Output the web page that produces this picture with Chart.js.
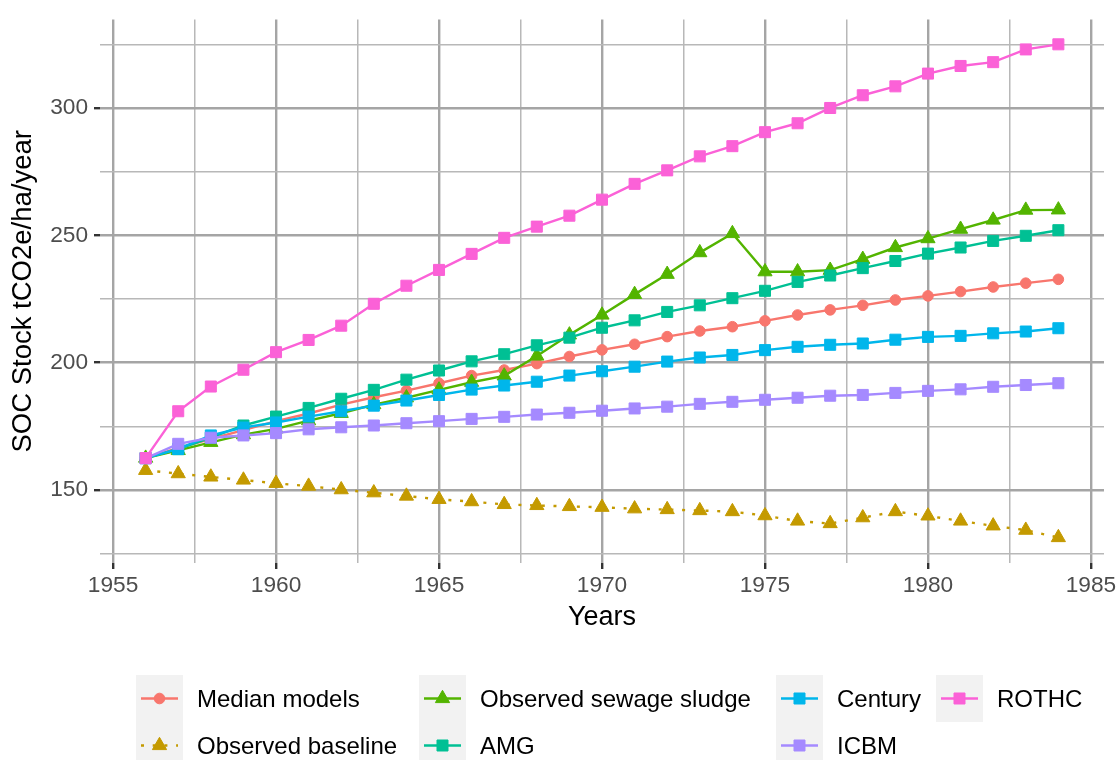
<!DOCTYPE html>
<html>
<head>
<meta charset="utf-8">
<script src="https://cdn.jsdelivr.net/npm/chart.js@4.4.1/dist/chart.umd.min.js"></script>
<style>
  html, body { margin: 0; padding: 0; background: #fff; }
  #wrap { position: relative; width: 1120px; height: 760px; overflow: hidden; font-family: "Liberation Sans", Arial, sans-serif; }
  #chart { position: absolute; left: 0; top: 0; }
  .key { position: absolute; width: 47px; height: 47px; }
  .lbl { position: absolute; font-size: 24px; line-height: 47px; color: #000; white-space: nowrap; }
</style>
</head>
<body>
<div id="wrap">
  <canvas id="chart" width="1120" height="760"></canvas>
  <div id="legend"></div>
</div>
<script>
// SOC stock per model, 1956-1984
const years = [1956, 1957, 1958, 1959, 1960, 1961, 1962, 1963, 1964, 1965, 1966, 1967, 1968, 1969, 1970,
  1971, 1972, 1973, 1974, 1975, 1976, 1977, 1978, 1979, 1980, 1981, 1982, 1983, 1984];

const medianModels = [162.5, 166.5, 170, 173.5, 177, 180, 183.5, 186.4, 189, 191.9, 194.9, 197.1, 199.6, 202.4, 205,
  207.2, 210.2, 212.4, 214.1, 216.4, 218.7, 220.7, 222.5, 224.6, 226.2, 227.9, 229.7, 231.2, 232.7];
const observedBaseline = [157.7, 156.4, 155.1, 153.9, 152.6, 151.5, 150.1, 148.9, 147.6, 146.3, 145.4, 144.3, 143.9, 143.5, 143.2,
  142.6, 142.3, 141.9, 141.5, 139.9, 137.8, 136.8, 139.1, 141.5, 139.8, 137.8, 135.9, 134.2, 131.3];
const observedSludge = [162.5, 165.5, 168.7, 171.7, 174, 177.2, 180.1, 183.5, 186.2, 189.3, 192.3, 194.8, 202.6, 210.9, 218.7,
  226.8, 234.7, 243.2, 250.7, 235.7, 235.7, 236.3, 240.6, 245.2, 248.7, 252.4, 256, 259.9, 260];
const amg = [162.5, 166, 170.5, 175.3, 178.8, 182.2, 185.8, 189.3, 193.3, 196.9, 200.5, 203.3, 206.8, 209.8, 213.7,
  216.6, 219.9, 222.5, 225.3, 228.2, 231.7, 234.2, 237.1, 239.9, 242.8, 245.2, 247.8, 249.8, 252];
const century = [162.5, 166.1, 171.4, 174.5, 176.5, 178.8, 180.9, 183.1, 185.1, 187.3, 189.4, 191, 192.5, 194.9, 196.6,
  198.4, 200.4, 202, 203, 204.9, 206.2, 207, 207.5, 209, 210.1, 210.5, 211.5, 212.2, 213.5];
const icbm = [162.4, 168.1, 170.5, 171.4, 172.3, 173.8, 174.6, 175.3, 176.2, 177, 177.9, 178.7, 179.6, 180.3, 181.1,
  182, 182.7, 183.8, 184.6, 185.4, 186.2, 187, 187.3, 188.1, 188.9, 189.5, 190.5, 191.2, 191.9];
const rothc = [162.5, 180.9, 190.6, 197.2, 204.1, 208.9, 214.5, 223.1, 230.2, 236.4, 242.7, 249, 253.4, 257.7, 264,
  270.2, 275.5, 281, 285, 290.5, 294, 300, 305, 308.5, 313.5, 316.5, 318, 323, 325];

const names = ['Median models', 'Observed baseline', 'Observed sewage sludge', 'AMG', 'Century', 'ICBM', 'ROTHC'];
const values = [medianModels, observedBaseline, observedSludge, amg, century, icbm, rothc];
const colors = ['#F8766D', '#C49A00', '#53B400', '#00C094', '#00B6EB', '#A58AFF', '#FB61D7'];
const shapes = ['circle', 'triangle', 'triangle', 'rect', 'rect', 'rect', 'rect'];

const xTicks = [1955, 1957.5, 1960, 1962.5, 1965, 1967.5, 1970, 1972.5, 1975, 1977.5, 1980, 1982.5, 1985];
const yTicks = [125, 150, 175, 200, 225, 250, 275, 300, 325];

const FONT = '"Liberation Sans", Arial, sans-serif';
const radius = { circle: 5.3, triangle: 8.2, rect: 7.8 };
const dotted = [3, 8.7];
const LINE_W = 2.4;

const isMajorX = v => v % 5 === 0;
const isMajorY = v => v % 50 === 0;

function gridFor(isMajor) {
  return {
    color: c => isMajor(c.tick.value) ? '#a5a5a5' : '#b8b8b8',
    lineWidth: c => isMajor(c.tick.value) ? 2.4 : 1.5,
    tickColor: c => isMajor(c.tick.value) ? '#333333' : 'rgba(255,255,255,0)',
    tickWidth: c => isMajor(c.tick.value) ? 2.4 : 0,
    tickLength: 6,
    drawTicks: true,
  };
}

new Chart(document.getElementById('chart'), {
  type: 'line',
  data: {
    datasets: names.map((name, i) => ({
      label: name,
      data: years.map((y, j) => ({ x: y, y: values[i][j] })),
      borderColor: colors[i],
      backgroundColor: colors[i],
      borderWidth: LINE_W,
      borderDash: i === 1 ? dotted : [],
      pointStyle: shapes[i],
      pointRadius: radius[shapes[i]],
      pointBorderWidth: 1,
      pointBorderColor: colors[i],
      pointBackgroundColor: colors[i],
      tension: 0,
      fill: false,
      order: names.length - 1 - i,
    })),
  },
  options: {
    responsive: false,
    devicePixelRatio: 1,
    animation: false,
    layout: { padding: { top: 18, right: 16, left: 0, bottom: 110 } },
    plugins: {
      legend: { display: false },
      tooltip: { enabled: false },
    },
    scales: {
      x: {
        type: 'linear',
        min: 1954.6,
        max: 1985.4,
        afterBuildTicks: s => { s.ticks = xTicks.map(v => ({ value: v })); },
        afterFit: s => { s.height = 87; },
        ticks: {
          autoSkip: false,
          maxRotation: 0,
          padding: 3,
          color: '#4d4d4d',
          font: { family: FONT, size: 22.7 },
          callback: v => isMajorX(v) ? String(v) : '',
        },
        grid: gridFor(isMajorX),
        border: { display: false },
        title: {
          display: true,
          text: 'Years',
          color: '#000',
          font: { family: FONT, size: 27 },
          padding: { top: 0, bottom: 16 },
        },
      },
      y: {
        type: 'linear',
        min: 121.3,
        max: 334.7,
        afterBuildTicks: s => { s.ticks = yTicks.map(v => ({ value: v })); },
        afterFit: s => { s.width = 100; },
        ticks: {
          autoSkip: false,
          padding: 6,
          color: '#4d4d4d',
          font: { family: FONT, size: 22.7 },
          callback: v => isMajorY(v) ? String(v) : '',
        },
        grid: gridFor(isMajorY),
        border: { display: false },
        title: {
          display: true,
          text: 'SOC Stock tCO2e/ha/year',
          color: '#000',
          font: { family: FONT, size: 27.5 },
          padding: { top: 7, bottom: 0 },
        },
      },
    },
  },
});

// ggplot-style legend: grey key boxes, filled column by column
const legendCols = [136, 419, 776, 936];
const legendRows = [675, 722];
const legendEl = document.getElementById('legend');

function drawKey(cv, i) {
  const ctx = cv.getContext('2d');
  ctx.fillStyle = '#f2f2f2';
  ctx.fillRect(0, 0, 47, 47);
  ctx.strokeStyle = colors[i];
  ctx.lineWidth = LINE_W;
  ctx.setLineDash(i === 1 ? dotted : []);
  ctx.beginPath();
  ctx.moveTo(5, 23.5);
  ctx.lineTo(42, 23.5);
  ctx.stroke();
  ctx.setLineDash([]);
  ctx.fillStyle = colors[i];
  ctx.lineWidth = 1;
  Chart.helpers.drawPoint(ctx, {
    pointStyle: shapes[i],
    radius: radius[shapes[i]],
    borderWidth: 1,
    rotation: 0,
  }, 23.5, 23.5);
}

names.forEach((name, i) => {
  const col = Math.floor(i / 2), row = i % 2;
  const cv = document.createElement('canvas');
  cv.width = 47; cv.height = 47;
  cv.className = 'key';
  cv.style.left = legendCols[col] + 'px';
  cv.style.top = legendRows[row] + 'px';
  legendEl.appendChild(cv);
  drawKey(cv, i);

  const lbl = document.createElement('div');
  lbl.className = 'lbl';
  lbl.textContent = name;
  lbl.style.left = (legendCols[col] + 61) + 'px';
  lbl.style.top = legendRows[row] + 'px';
  legendEl.appendChild(lbl);
});
</script>
</body>
</html>
